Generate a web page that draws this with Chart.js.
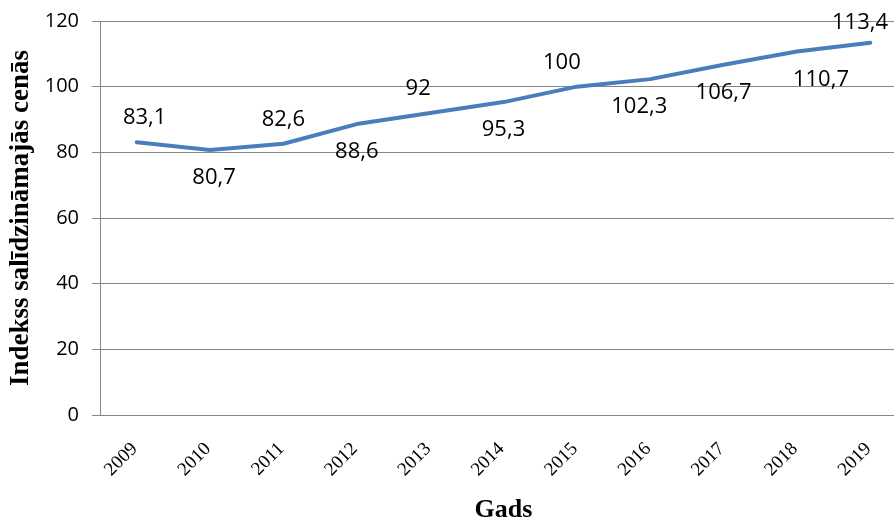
<!DOCTYPE html>
<html>
<head>
<meta charset="utf-8">
<script src="https://cdn.jsdelivr.net/npm/chart.js@4.4.0/dist/chart.umd.min.js"></script>
<style>
  html, body { margin: 0; padding: 0; background: #fff; overflow: hidden; }
  #wrap { width: 894px; height: 526px; overflow: hidden; position: relative; }
  canvas { display: block; }
</style>
</head>
<body>
<div id="wrap"><canvas id="chart" width="910" height="526"></canvas></div>
<script>
// Price index by year
const years = ['2009', '2010', '2011', '2012', '2013', '2014', '2015', '2016', '2017', '2018', '2019'];
const indexValues = [83.1, 80.7, 82.6, 88.6, 92, 95.3, 100, 102.3, 106.7, 110.7, 113.4];
const yTicks = [0, 20, 40, 60, 80, 100, 120];

// Where each value label sits relative to its point: side (-1 above, 1 below) and sideways nudge
const labelSide = [-1, 1, -1, 1, -1, 1, -1, 1, 1, 1, -1];
const labelNudgeX = [8, 4, 0, 0, -12, 0, -15, -11, 0, 24, 0];

const GRID = '#868686';
const VISIBLE_WIDTH = 894;

const valueLabels = {
  id: 'valueLabels',
  afterDatasetsDraw(chart) {
    const ctx = chart.ctx;
    const meta = chart.getDatasetMeta(0);
    ctx.save();
    ctx.font = '22px "Open Sans"';
    ctx.fillStyle = '#000';
    ctx.textAlign = 'center';
    ctx.textBaseline = 'middle';
    meta.data.forEach((pt, i) => {
      const text = String(indexValues[i]).replace('.', ',');
      const half = ctx.measureText(text).width / 2;
      const dy = labelSide[i] < 0 ? -24 : 28;
      let x = pt.x + labelNudgeX[i];
      x = Math.min(x, VISIBLE_WIDTH - 6 - half);
      const y = Math.max(pt.y + dy, 23);
      ctx.fillText(text, x, y);
    });
    ctx.restore();
  }
};

new Chart(document.getElementById('chart'), {
  type: 'line',
  data: {
    labels: years,
    datasets: [{
      data: indexValues,
      borderColor: '#4a7ebb',
      borderWidth: 4,
      borderCapStyle: 'round',
      borderJoinStyle: 'round',
      pointRadius: 0,
      pointHoverRadius: 0,
      tension: 0,
      fill: false
    }]
  },
  options: {
    responsive: false,
    devicePixelRatio: 1,
    animation: false,
    layout: { padding: { top: 21, right: 3, bottom: 0, left: 0 } },
    plugins: {
      legend: { display: false },
      tooltip: { enabled: false }
    },
    scales: {
      x: {
        offset: true,
        grid: { display: false, drawTicks: false },
        border: { display: true, color: GRID, width: 1 },
        ticks: {
          color: '#000',
          font: { family: '"Liberation Serif"', size: 19 },
          minRotation: 45,
          maxRotation: 45,
          padding: 23,
          labelOffset: -2
        },
        title: {
          display: true,
          text: 'Gads',
          color: '#000',
          font: { family: '"Liberation Serif"', size: 26, weight: 'bold' },
          padding: { top: 0, bottom: 0 }
        },
        afterFit(scale) { scale.height = 111; }
      },
      y: {
        min: 0,
        max: 120,
        afterBuildTicks(scale) { scale.ticks = yTicks.map(v => ({ value: v })); },
        grid: { color: GRID, lineWidth: 1, drawTicks: true, tickLength: 8, tickColor: GRID },
        border: { display: true, color: GRID, width: 1 },
        ticks: {
          color: '#000',
          font: { family: '"Open Sans"', size: 20 },
          padding: 13
        },
        title: {
          display: true,
          text: 'Indekss salīdzināmajās cenās',
          color: '#000',
          font: { family: '"Liberation Serif"', size: 27, weight: 'bold' },
          padding: { top: 5, bottom: 0 }
        },
        afterFit(scale) {
          scale.width = 100;
          scale.paddingTop = 0;
          scale.paddingBottom = 0;
        }
      }
    }
  },
  plugins: [valueLabels]
});
</script>
</body>
</html>
